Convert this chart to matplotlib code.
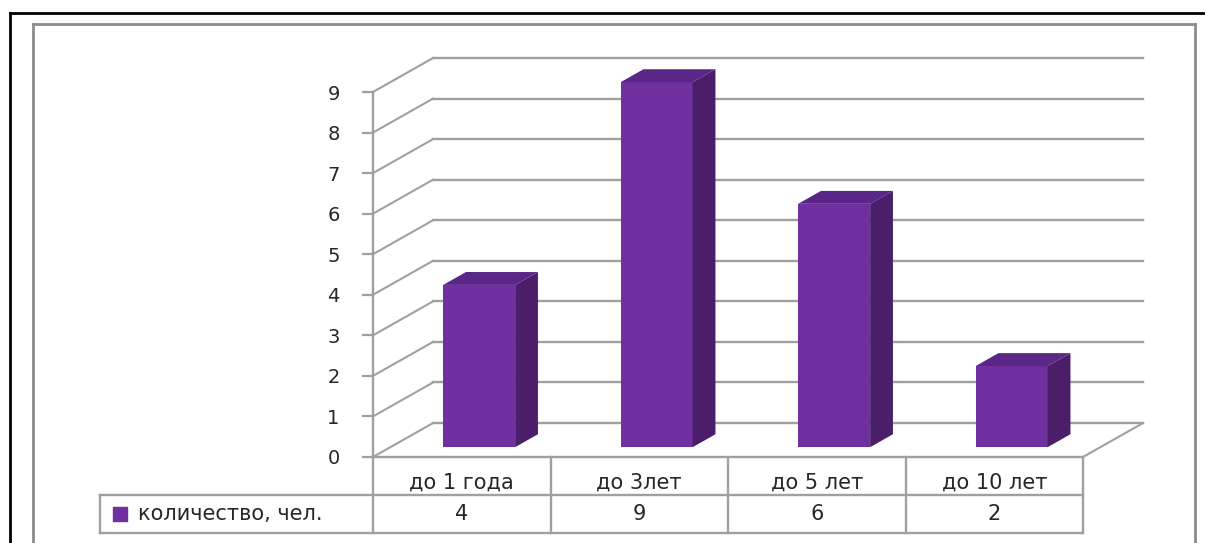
import matplotlib.pyplot as plt
import matplotlib.lines as mlines
import numpy as np

plt.rcParams['font.family'] = ['DejaVu Sans']

# данные
categories = ['до 1 года', 'до 3лет', 'до 5 лет', 'до 10 лет']
values = [4, 9, 6, 2]
series_name = 'количество, чел.'
yticks = list(range(10))

# цвета
c_front = '#7030A0'
c_side = '#4A1E68'
c_top = '#5A2688'
c_grid = '#A0A0A0'
c_text = '#262626'
fs = 15

W, H = 1205, 543
fig = plt.figure(figsize=(W / 100, H / 100), dpi=100)

# передняя плоскость графика: x 373..1083 px, y 0 -> 457 px, 9 -> 92 px
ax = fig.add_axes([373 / W, (H - 457) / H, 710 / W, 365 / H])
ax.set_xlim(0, len(categories))
ax.set_ylim(0, 9)
ax.patch.set_visible(False)

# псевдо-3D глубина (в единицах данных)
depth_x = 60 / 177.5
depth_y = 34 / 40.6
n = len(categories)

# задняя стенка: линии сетки и диагонали на боковой стенке
for v in yticks:
    ax.plot([depth_x, n + depth_x], [v + depth_y, v + depth_y],
            color=c_grid, lw=1.7, clip_on=False, zorder=1)
    ax.plot([0, depth_x], [v, v + depth_y],
            color=c_grid, lw=1.5, clip_on=False, zorder=1)
# правый край пола
ax.plot([n, n + depth_x], [0, depth_y], color=c_grid, lw=1.5, clip_on=False, zorder=1)

# столбцы
bar_w = 72 / 177.5
f0 = 0.29
bar_d = 0.38
x0 = np.arange(n) + 0.5 + f0 * depth_x
y0 = f0 * depth_y
bx = bar_d * depth_x
by = bar_d * depth_y
ax.bar(x0, values, width=bar_w, bottom=y0, color=c_front, clip_on=False, zorder=3)
for xc, v in zip(x0, values):
    xl, xr = xc - bar_w / 2, xc + bar_w / 2
    top = v + y0
    ax.fill([xr, xr + bx, xr + bx, xr], [y0, y0 + by, top + by, top],
            color=c_side, clip_on=False, zorder=3, lw=0)
    ax.fill([xl, xr, xr + bx, xl + bx], [top, top, top + by, top + by],
            color=c_top, clip_on=False, zorder=3, lw=0)

# ось Y
for s in ['top', 'right', 'bottom']:
    ax.spines[s].set_visible(False)
ax.spines['left'].set_color(c_grid)
ax.spines['left'].set_linewidth(1.7)
ax.set_xticks([])
ax.set_yticks(yticks)
ax.tick_params(axis='y', length=8, width=1.6, color=c_grid, pad=16,
               labelsize=14, labelcolor=c_text)

# таблица данных под графиком
row_h = 38 / 40.6
leg_x = (100 - 373) / 177.5
tbl = dict(color=c_grid, lw=1.7, clip_on=False, zorder=2)
ax.plot([0, n], [0, 0], **tbl)
ax.plot([leg_x, n], [-row_h, -row_h], **tbl)
ax.plot([leg_x, n], [-2 * row_h, -2 * row_h], **tbl)
for i in range(n + 1):
    ax.plot([i, i], [0, -2 * row_h], **tbl)
ax.plot([leg_x, leg_x], [-row_h, -2 * row_h], **tbl)

for i, (cat, v) in enumerate(zip(categories, values)):
    ax.text(i + 0.5, -0.62, cat, ha='center', va='center', fontsize=fs, color=c_text)
    ax.text(i + 0.5, -1.40, str(v), ha='center', va='center', fontsize=fs, color=c_text)

ax.scatter([(120 - 373) / 177.5], [-1.40], marker='s', s=90, color=c_front,
           clip_on=False, zorder=4)
ax.text((138 - 373) / 177.5, -1.40, series_name, ha='left', va='center',
        fontsize=fs, color=c_text)

# рамки вокруг области диаграммы
fig.add_artist(mlines.Line2D([10 / W, 1], [1 - 13 / H, 1 - 13 / H], color='black', lw=2))
fig.add_artist(mlines.Line2D([10 / W, 10 / W], [0, 1 - 13 / H], color='black', lw=2))
fig.add_artist(mlines.Line2D([33 / W, 1195 / W], [1 - 24 / H, 1 - 24 / H], color='#8C8C8C', lw=2))
fig.add_artist(mlines.Line2D([33 / W, 33 / W], [0, 1 - 24 / H], color='#8C8C8C', lw=2))
fig.add_artist(mlines.Line2D([1195 / W, 1195 / W], [0, 1 - 24 / H], color='#8C8C8C', lw=2))

fig.savefig('out.png', dpi=100)
